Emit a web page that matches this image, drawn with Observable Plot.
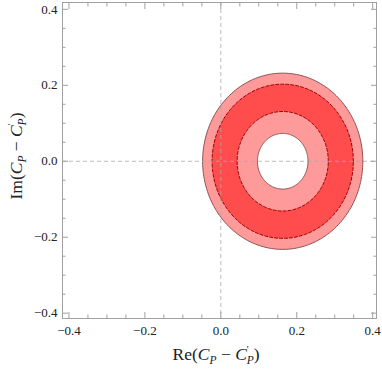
<!DOCTYPE html>
<html>
<head>
<meta charset="utf-8">
<script src="https://cdn.jsdelivr.net/npm/d3@7"></script>
<script src="https://cdn.jsdelivr.net/npm/@observablehq/plot@0.6"></script>
<style>
  html, body { margin: 0; padding: 0; background: #fff; }
  svg text { font-family: 'Liberation Serif', 'DejaVu Serif', serif !important; }
</style>
</head>
<body>
<div id="chart"></div>
<script>
// ----- data -----
const xDomain = [-0.417, 0.41];
const yDomain = [-0.414, 0.418];
const majorTicks = [-0.4, -0.2, 0, 0.2, 0.4];
const minorTicks = [-0.35, -0.3, -0.25, -0.15, -0.1, -0.05, 0.05, 0.1, 0.15, 0.25, 0.3, 0.35];
// regions: ellipses centred at (centerX, centerY)
const centerX = 0.163;
const centerY = 0.0;
const regionNames = ["outer", "band outer", "band inner", "hole"];
const radiusX = [0.211, 0.186, 0.120, 0.0666];
const radiusY = [0.232, 0.203, 0.131, 0.0733];
const regionFill = ["#ff9a9a", "#ff4d4d", "#ff9a9a", "#ffffff"];
const regionStroke = ["#8e5555", "#990000", "#990000", "#8e5555"];
const regionDash = [null, "3,2", "3,2", null];

// outline points of each ellipse
const N = 180;
const outlines = regionNames.map((name, i) =>
  d3.range(N + 1).map(k => {
    const t = (2 * Math.PI * k) / N;
    return {name, x: centerX + radiusX[i] * Math.cos(t), y: centerY + radiusY[i] * Math.sin(t)};
  })
);

const font = "'Liberation Serif', 'DejaVu Serif', serif";
const fmt = d3.format(".1f");
const tickStyle = {text: null, label: null, stroke: "#a0a0a0"};

const marks = [];
outlines.forEach((pts, i) => {
  marks.push(Plot.line(pts, {
    x: "x", y: "y",
    fill: regionFill[i],
    stroke: regionStroke[i],
    strokeWidth: 1,
    strokeDasharray: regionDash[i],
    curve: "linear"
  }));
});
marks.push(
  Plot.ruleX([0], {stroke: "#aaa", strokeDasharray: "4,3", strokeWidth: 1, strokeOpacity: 0.8}),
  Plot.ruleY([0], {stroke: "#aaa", strokeDasharray: "4,3", strokeWidth: 1, strokeOpacity: 0.8}),
  Plot.frame({stroke: "#a0a0a0"}),
  // inward ticks on all four sides
  Plot.axisX(majorTicks, {anchor: "bottom", tickSize: -6, ...tickStyle}),
  Plot.axisX(minorTicks, {anchor: "bottom", tickSize: -3.5, ...tickStyle}),
  Plot.axisX(majorTicks, {anchor: "top", tickSize: -6, ...tickStyle}),
  Plot.axisX(minorTicks, {anchor: "top", tickSize: -3.5, ...tickStyle}),
  Plot.axisY(majorTicks, {anchor: "left", tickSize: -6, ...tickStyle}),
  Plot.axisY(minorTicks, {anchor: "left", tickSize: -3.5, ...tickStyle}),
  Plot.axisY(majorTicks, {anchor: "right", tickSize: -6, ...tickStyle}),
  Plot.axisY(minorTicks, {anchor: "right", tickSize: -3.5, ...tickStyle}),
  // tick labels
  Plot.axisX(majorTicks, {anchor: "bottom", tickSize: 0, tickPadding: 7, tickFormat: fmt, fontSize: 13, fontFamily: font, fill: "#222", label: null}),
  Plot.axisY(majorTicks, {anchor: "left", tickSize: 0, tickPadding: 5, tickFormat: fmt, fontSize: 13, fontFamily: font, fill: "#222", label: null})
);

const chart = Plot.plot({
  width: 382,
  height: 370,
  marginLeft: 62,
  marginRight: 6,
  marginTop: 2,
  marginBottom: 52,
  style: {fontFamily: font, fontSize: "13px", background: "#fff"},
  x: {domain: xDomain, axis: null, label: null},
  y: {domain: yDomain, axis: null, label: null},
  marks
});
document.getElementById("chart").appendChild(chart);

// axis titles with sub/superscripts
const svg = d3.select(chart);
function addLabel(g, prefix) {
  const t = g.append("text")
    .attr("font-family", font)
    .attr("font-size", 17.5)
    .attr("fill", "#222");
  t.append("tspan").text(prefix + "(");
  t.append("tspan").attr("font-style", "italic").text("C");
  t.append("tspan").attr("font-style", "italic").attr("font-size", 11.5).attr("dy", 4).text("P");
  t.append("tspan").attr("dy", -4).text(" \u2212 ");
  t.append("tspan").attr("font-style", "italic").text("C");
  t.append("tspan").attr("font-size", 10).attr("dy", -7).text("'");
  t.append("tspan").attr("font-style", "italic").attr("font-size", 11.5).attr("dx", -2).attr("dy", 11).text("P");
  t.append("tspan").attr("dy", -4).text(")");
  return t;
}
const xl = addLabel(svg.append("g").attr("transform", "translate(216,360)"), "Re");
xl.attr("text-anchor", "middle");
const yl = addLabel(svg.append("g").attr("transform", "translate(22,156) rotate(-90)"), "Im");
yl.attr("text-anchor", "middle");
</script>
</body>
</html>
